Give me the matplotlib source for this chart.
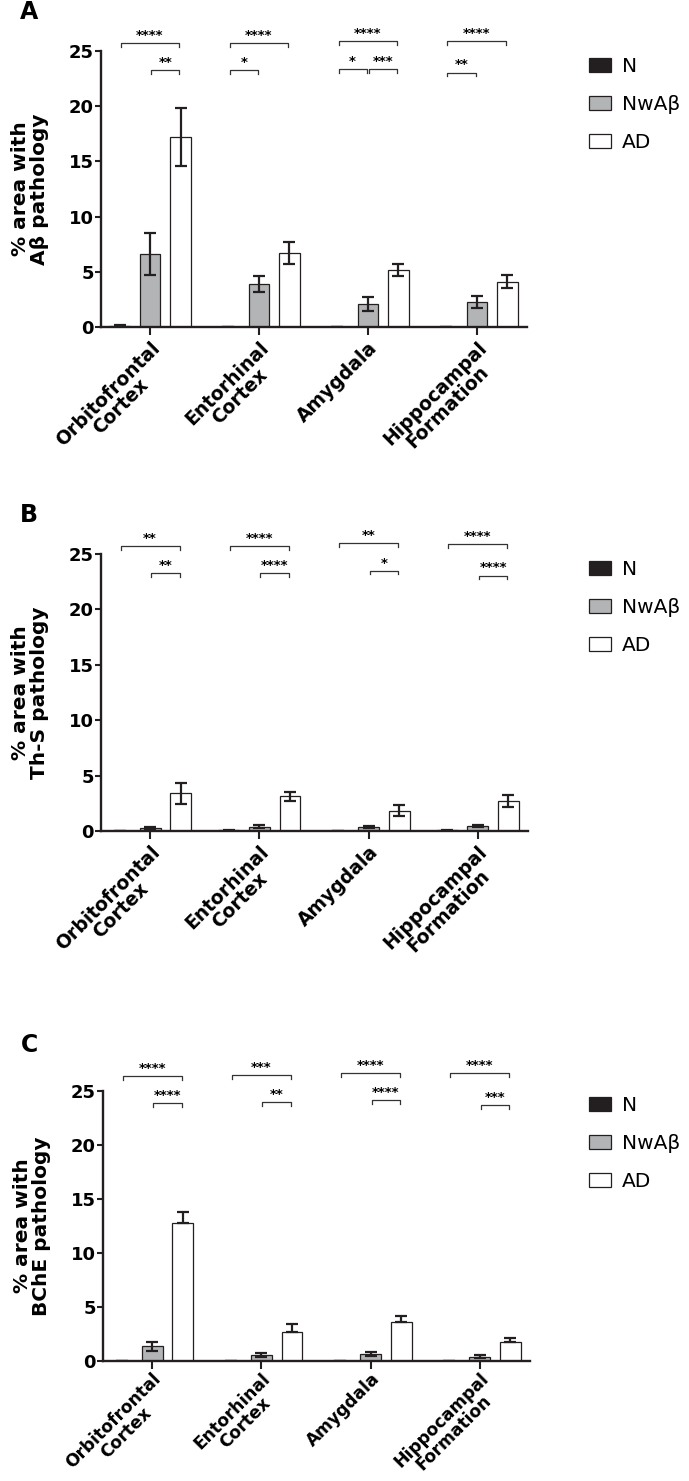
import numpy as np
import matplotlib.pyplot as plt
from matplotlib.patches import Patch
from matplotlib.transforms import ScaledTranslation

plt.rcParams['font.family'] = ['DejaVu Sans']

regions = ["Orbitofrontal\nCortex", "Entorhinal\nCortex", "Amygdala", "Hippocampal\nFormation"]
groups = ["N", "NwAβ", "AD"]
yticks = [0, 5, 10, 15, 20, 25]

# panel A: Aβ
a_n      = [0.1, 0.0, 0.0, 0.0]
a_n_err  = [0.05, 0.0, 0.0, 0.0]
a_nw     = [6.6, 3.9, 2.1, 2.3]
a_nw_err = [1.9, 0.7, 0.65, 0.55]
a_ad     = [17.2, 6.7, 5.2, 4.1]
a_ad_err = [2.6, 1.0, 0.55, 0.6]
# (region, group1, group2, height, stars)
a_sig = [(0, 0, 2, 25.75, "****"), (0, 1, 2, 23.3, "**"),
         (1, 0, 2, 25.75, "****"), (1, 0, 1, 23.3, "*"),
         (2, 0, 2, 25.93, "****"), (2, 0, 1, 23.4, "*"), (2, 1, 2, 23.4, "***"),
         (3, 0, 2, 25.93, "****"), (3, 0, 1, 23.05, "**")]

# panel B: Th-S
b_n      = [0.0, 0.05, 0.02, 0.08]
b_n_err  = [0.0, 0.03, 0.01, 0.04]
b_nw     = [0.25, 0.4, 0.35, 0.45]
b_nw_err = [0.1, 0.1, 0.08, 0.1]
b_ad     = [3.4, 3.15, 1.85, 2.7]
b_ad_err = [0.95, 0.4, 0.5, 0.55]
b_sig = [(0, 0, 2, 25.7, "**"), (0, 1, 2, 23.3, "**"),
         (1, 0, 2, 25.7, "****"), (1, 1, 2, 23.3, "****"),
         (2, 0, 2, 25.95, "**"), (2, 1, 2, 23.5, "*"),
         (3, 0, 2, 25.9, "****"), (3, 1, 2, 23.05, "****")]

# panel C: BChE (AD error bars drawn upward only)
c_n      = [0.03, 0.0, 0.0, 0.0]
c_n_err  = [0.0, 0.0, 0.0, 0.0]
c_nw     = [1.35, 0.55, 0.65, 0.4]
c_nw_err = [0.4, 0.2, 0.2, 0.15]
c_ad     = [12.8, 2.7, 3.6, 1.8]
c_ad_err = [1.0, 0.7, 0.55, 0.3]
c_sig = [(0, 0, 2, 26.35, "****"), (0, 1, 2, 23.85, "****"),
         (1, 0, 2, 26.4, "***"), (1, 1, 2, 23.9, "**"),
         (2, 0, 2, 26.6, "****"), (2, 1, 2, 24.1, "****"),
         (3, 0, 2, 26.6, "****"), (3, 1, 2, 23.65, "***")]

colors = ["#231f20", "#b3b4b6", "white"]
edge = "#231f20"
W = 689; H = 1481
fig = plt.figure(figsize=(6.89, 14.81), dpi=100)

def px_axes(l, r, top, bot):
    return fig.add_axes([l / W, 1 - bot / H, (r - l) / W, (bot - top) / H])

panels = [
    dict(ax=px_axes(101, 527, 51, 327), vals=[a_n, a_nw, a_ad], errs=[a_n_err, a_nw_err, a_ad_err],
         sig=a_sig, ylabel="% area with\nAβ pathology", letter="A", ly=12, legy=57,
         upper_only=False, xpad=2, xfs=13.5),
    dict(ax=px_axes(101, 528, 554, 831), vals=[b_n, b_nw, b_ad], errs=[b_n_err, b_nw_err, b_ad_err],
         sig=b_sig, ylabel="% area with\nTh-S pathology", letter="B", ly=515, legy=560,
         upper_only=False, xpad=2, xfs=13.5),
    dict(ax=px_axes(103, 530, 1090.5, 1361), vals=[c_n, c_nw, c_ad], errs=[c_n_err, c_nw_err, c_ad_err],
         sig=c_sig, ylabel="% area with\nBChE pathology", letter="C", ly=1045, legy=1096,
         upper_only=True, xpad=0, xfs=12.3),
]

x = np.arange(len(regions))
offs = [-0.28, 0.0, 0.28]
bw = 0.19
shift = ScaledTranslation(-9 / 100, 0, fig.dpi_scale_trans)

for p in panels:
    ax = p["ax"]
    for g in range(3):
        vals = np.array(p["vals"][g])
        err = np.array(p["errs"][g])
        ax.bar(x + offs[g], vals, bw, color=colors[g], edgecolor=edge, linewidth=0.9, zorder=2)
        if p["upper_only"] and g == 2:
            yerr = [np.zeros_like(err), err]
        else:
            yerr = err
        ax.errorbar(x + offs[g], vals, yerr=yerr, fmt="none", ecolor=edge,
                    elinewidth=1.6, capsize=4.3, capthick=1.6, zorder=3)

    ax.set_xlim(-0.45, 3.46)
    ax.set_ylim(0, 25)
    ax.set_yticks(yticks)
    ax.set_xticks(x)
    ax.set_xticklabels(regions, rotation=45, ha="right", va="top", rotation_mode="anchor",
                       multialignment="center", fontsize=p["xfs"], fontweight="bold", linespacing=0.95)
    for lab in ax.get_xticklabels():
        lab.set_transform(lab.get_transform() + shift)
    for lab in ax.get_yticklabels():
        lab.set_fontsize(13)
        lab.set_fontweight("bold")
    ax.tick_params(axis="y", length=4, width=1.5, pad=1, color=edge)
    ax.tick_params(axis="x", length=6, width=1.5, pad=p["xpad"], color=edge)
    for s in ["top", "right"]:
        ax.spines[s].set_visible(False)
    for s in ["left", "bottom"]:
        ax.spines[s].set_linewidth(1.7)
        ax.spines[s].set_color(edge)
    ax.set_ylabel(p["ylabel"], fontsize=14.5, fontweight="bold", va="center", linespacing=1.0)
    ax.yaxis.set_label_coords(-0.167, 0.5)

    # significance brackets
    for (r, g1, g2, h, stars) in p["sig"]:
        x1 = r + offs[g1] + 0.01
        x2 = r + offs[g2] - 0.01
        ax.plot([x1, x1, x2, x2], [h - 0.35, h, h, h - 0.35], color="#333333",
                lw=0.9, clip_on=False, zorder=4)
        ax.text((x1 + x2) / 2, h + 0.1, stars, ha="center", va="bottom", fontsize=9.5,
                fontweight="bold", clip_on=False)

    fig.text(29 / W, 1 - p["ly"] / H, p["letter"], fontsize=17, fontweight="bold",
             ha="center", va="center")

    handles = [Patch(facecolor=colors[g], edgecolor=edge, linewidth=0.9) for g in range(3)]
    fig.legend(handles, groups, loc="upper left", bbox_to_anchor=(589 / W, 1 - p["legy"] / H),
               frameon=False, fontsize=14.5, handlelength=1.1, handleheight=0.7,
               handletextpad=0.55, labelspacing=0.95, borderpad=0, borderaxespad=0)

fig.savefig("out.png", dpi=100)
